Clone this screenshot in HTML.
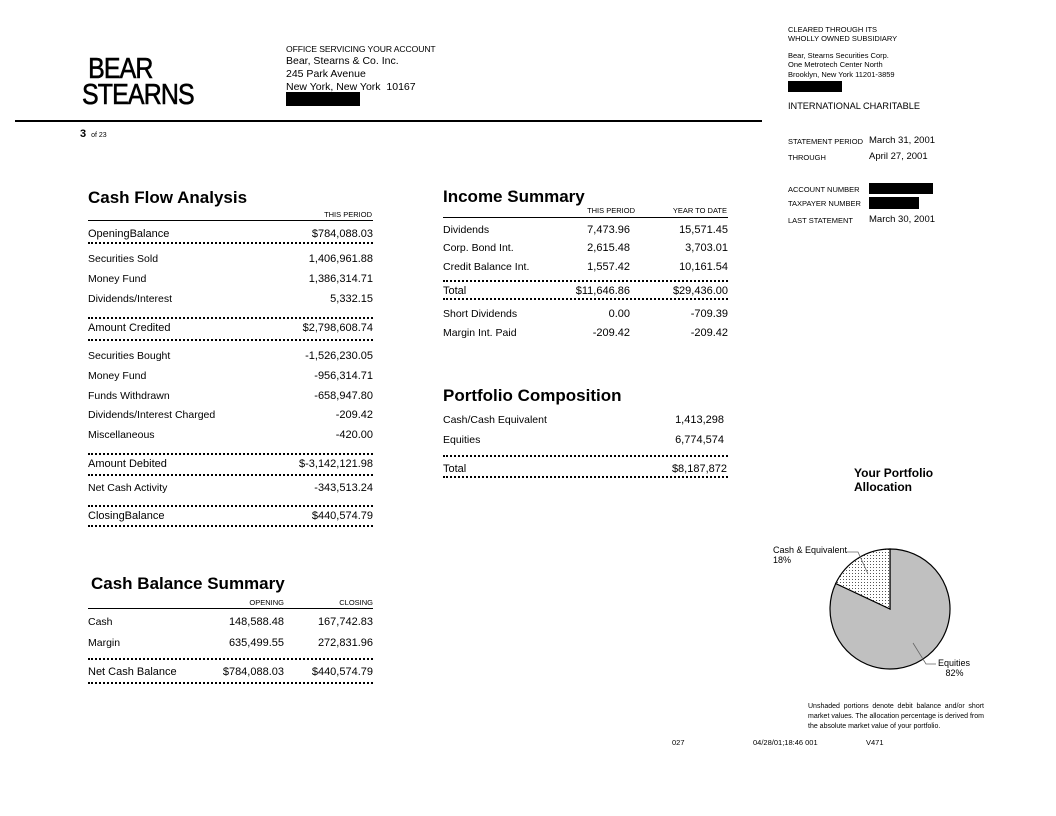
<!DOCTYPE html>
<html><head><meta charset="utf-8"><style>
body{margin:0;width:1056px;height:816px;background:#fff;position:relative;overflow:hidden;font-family:"Liberation Sans",sans-serif;color:#000}
.a{position:absolute;white-space:nowrap;line-height:14px;font-size:11px}
.r{text-align:right}
.s{font-size:7.5px}
.h{font-size:17px;font-weight:bold;line-height:20px}
.d{position:absolute;height:0;border-top:2px dotted #000}
.l{position:absolute;height:0;border-top:1.5px solid #000}
.b{position:absolute;background:#000}
</style></head><body>
<div class="a" style="left:82px;top:56px;font-size:29px;line-height:26px;letter-spacing:-1px;transform:scaleX(0.86);transform-origin:left;-webkit-text-stroke:0.6px #000">&nbsp;BEAR<br>STEARNS</div>
<div class="a" style="left:286px;top:42px;font-size:8.6px;letter-spacing:-0.1px">OFFICE SERVICING YOUR ACCOUNT</div>
<div class="a" style="left:286px;top:54px;font-size:10.5px">Bear, Stearns &amp; Co. Inc.</div>
<div class="a" style="left:286px;top:67px;font-size:10.5px">245 Park Avenue</div>
<div class="a" style="left:286px;top:80px;font-size:10.5px">New York, New York&nbsp; 10167</div>
<div class="b" style="left:286px;top:92px;width:74px;height:14px"></div>
<div class="l" style="left:15px;top:120px;width:747px;border-top-width:2px"></div>
<div class="a" style="left:80px;top:127px;font-size:11px"><b>3</b> <span style="font-size:7px">&nbsp;of 23</span></div>

<div class="a s" style="left:788px;top:23px">CLEARED THROUGH ITS</div>
<div class="a s" style="left:788px;top:32px">WHOLLY OWNED SUBSIDIARY</div>
<div class="a s" style="left:788px;top:49px">Bear, Stearns Securities Corp.</div>
<div class="a s" style="left:788px;top:58px">One Metrotech Center North</div>
<div class="a s" style="left:788px;top:68px">Brooklyn, New York 11201-3859</div>
<div class="b" style="left:788px;top:81px;width:54px;height:11px"></div>
<div class="a" style="left:788px;top:99px;font-size:9.2px">INTERNATIONAL CHARITABLE</div>
<div class="a s" style="left:788px;top:135px">STATEMENT PERIOD</div>
<div class="a" style="left:869px;top:134px;font-size:9.5px">March 31, 2001</div>
<div class="a s" style="left:788px;top:151px">THROUGH</div>
<div class="a" style="left:869px;top:150px;font-size:9.5px">April 27, 2001</div>
<div class="a s" style="left:788px;top:183px">ACCOUNT NUMBER</div>
<div class="b" style="left:869px;top:183px;width:64px;height:11px"></div>
<div class="a s" style="left:788px;top:197px">TAXPAYER NUMBER</div>
<div class="b" style="left:869px;top:197px;width:50px;height:12px"></div>
<div class="a s" style="left:788px;top:214px">LAST STATEMENT</div>
<div class="a" style="left:869px;top:213px;font-size:9.5px">March 30, 2001</div>

<div class="a h" style="left:88px;top:188px">Cash Flow Analysis</div>
<div class="a s r" style="left:273px;width:99px;top:208px">THIS PERIOD</div>
<div class="l" style="left:88px;top:220px;width:285px"></div>
<div class="a" style="left:88px;top:227px">OpeningBalance</div><div class="a r" style="left:233px;width:140px;top:227px">$784,088.03</div>
<div class="d" style="left:88px;top:242px;width:285px"></div>
<div class="a" style="left:88px;top:252px;font-size:10.5px">Securities Sold</div><div class="a r" style="left:233px;width:140px;top:252px">1,406,961.88</div>
<div class="a" style="left:88px;top:272px;font-size:10.5px">Money Fund</div><div class="a r" style="left:233px;width:140px;top:272px">1,386,314.71</div>
<div class="a" style="left:88px;top:292px;font-size:10.5px">Dividends/Interest</div><div class="a r" style="left:233px;width:140px;top:292px">5,332.15</div>
<div class="d" style="left:88px;top:317px;width:285px"></div>
<div class="a" style="left:88px;top:321px">Amount Credited</div><div class="a r" style="left:233px;width:140px;top:321px">$2,798,608.74</div>
<div class="d" style="left:88px;top:339px;width:285px"></div>
<div class="a" style="left:88px;top:349px;font-size:10.5px">Securities Bought</div><div class="a r" style="left:233px;width:140px;top:349px">-1,526,230.05</div>
<div class="a" style="left:88px;top:369px;font-size:10.5px">Money Fund</div><div class="a r" style="left:233px;width:140px;top:369px">-956,314.71</div>
<div class="a" style="left:88px;top:389px;font-size:10.5px">Funds Withdrawn</div><div class="a r" style="left:233px;width:140px;top:389px">-658,947.80</div>
<div class="a" style="left:88px;top:408px;font-size:10.5px">Dividends/Interest Charged</div><div class="a r" style="left:233px;width:140px;top:408px">-209.42</div>
<div class="a" style="left:88px;top:428px;font-size:10.5px">Miscellaneous</div><div class="a r" style="left:233px;width:140px;top:428px">-420.00</div>
<div class="d" style="left:88px;top:453px;width:285px"></div>
<div class="a" style="left:88px;top:457px">Amount Debited</div><div class="a r" style="left:233px;width:140px;top:457px">$-3,142,121.98</div>
<div class="d" style="left:88px;top:474px;width:285px"></div>
<div class="a" style="left:88px;top:481px;font-size:10.5px">Net Cash Activity</div><div class="a r" style="left:233px;width:140px;top:481px">-343,513.24</div>
<div class="d" style="left:88px;top:505px;width:285px"></div>
<div class="a" style="left:88px;top:509px">ClosingBalance</div><div class="a r" style="left:233px;width:140px;top:509px">$440,574.79</div>
<div class="d" style="left:88px;top:525px;width:285px"></div>

<div class="a h" style="left:443px;top:187px">Income Summary</div>
<div class="a s r" style="left:535px;width:100px;top:204px">THIS PERIOD</div>
<div class="a s r" style="left:627px;width:100px;top:204px">YEAR TO DATE</div>
<div class="l" style="left:443px;top:217px;width:285px"></div>
<div class="a" style="left:443px;top:223px;font-size:10.5px">Dividends</div><div class="a r" style="left:530px;width:100px;top:223px">7,473.96</div><div class="a r" style="left:628px;width:100px;top:223px">15,571.45</div>
<div class="a" style="left:443px;top:241px;font-size:10.5px">Corp. Bond Int.</div><div class="a r" style="left:530px;width:100px;top:241px">2,615.48</div><div class="a r" style="left:628px;width:100px;top:241px">3,703.01</div>
<div class="a" style="left:443px;top:260px;font-size:10.5px">Credit Balance Int.</div><div class="a r" style="left:530px;width:100px;top:260px">1,557.42</div><div class="a r" style="left:628px;width:100px;top:260px">10,161.54</div>
<div class="d" style="left:443px;top:280px;width:285px"></div>
<div class="a" style="left:443px;top:284px">Total</div><div class="a r" style="left:530px;width:100px;top:284px">$11,646.86</div><div class="a r" style="left:628px;width:100px;top:284px">$29,436.00</div>
<div class="d" style="left:443px;top:298px;width:285px"></div>
<div class="a" style="left:443px;top:307px;font-size:10.5px">Short Dividends</div><div class="a r" style="left:530px;width:100px;top:307px">0.00</div><div class="a r" style="left:628px;width:100px;top:307px">-709.39</div>
<div class="a" style="left:443px;top:326px;font-size:10.5px">Margin Int. Paid</div><div class="a r" style="left:530px;width:100px;top:326px">-209.42</div><div class="a r" style="left:628px;width:100px;top:326px">-209.42</div>

<div class="a h" style="left:443px;top:386px">Portfolio Composition</div>
<div class="a" style="left:443px;top:413px;font-size:10.5px">Cash/Cash Equivalent</div><div class="a r" style="left:604px;width:120px;top:413px">1,413,298</div>
<div class="a" style="left:443px;top:433px;font-size:10.5px">Equities</div><div class="a r" style="left:604px;width:120px;top:433px">6,774,574</div>
<div class="d" style="left:443px;top:455px;width:285px"></div>
<div class="a" style="left:443px;top:462px">Total</div><div class="a r" style="left:604px;width:123px;top:462px">$8,187,872</div>
<div class="d" style="left:443px;top:476px;width:285px"></div>

<div class="a h" style="left:91px;top:574px">Cash Balance Summary</div>
<div class="a s r" style="left:184px;width:100px;top:596px">OPENING</div>
<div class="a s r" style="left:273px;width:100px;top:596px">CLOSING</div>
<div class="l" style="left:88px;top:608px;width:285px"></div>
<div class="a" style="left:88px;top:615px;font-size:10.5px">Cash</div><div class="a r" style="left:164px;width:120px;top:615px">148,588.48</div><div class="a r" style="left:253px;width:120px;top:615px">167,742.83</div>
<div class="a" style="left:88px;top:636px;font-size:10.5px">Margin</div><div class="a r" style="left:164px;width:120px;top:636px">635,499.55</div><div class="a r" style="left:253px;width:120px;top:636px">272,831.96</div>
<div class="d" style="left:88px;top:658px;width:285px"></div>
<div class="a" style="left:88px;top:665px">Net Cash Balance</div><div class="a r" style="left:164px;width:120px;top:665px">$784,088.03</div><div class="a r" style="left:253px;width:120px;top:665px">$440,574.79</div>
<div class="d" style="left:88px;top:682px;width:285px"></div>

<div class="a" style="left:854px;top:466px;font-size:12px;font-weight:bold;line-height:14px">Your Portfolio<br>Allocation</div>
<svg style="position:absolute;left:0;top:0" width="1056" height="816">
<defs><pattern id="p" width="3" height="3" patternUnits="userSpaceOnUse"><rect width="3" height="3" fill="#fff"/><rect width="1" height="1" fill="#555"/></pattern></defs>
<path d="M890,609 L890,549 A60,60 0 1,1 835.7,583.5 Z" fill="#c0c0c0" stroke="#000" stroke-width="1.2"/>
<path d="M890,609 L835.7,583.5 A60,60 0 0,1 890,549 Z" fill="url(#p)" stroke="#000" stroke-width="1.2"/>
<polyline points="846,552 858,552 868,574" fill="none" stroke="#666" stroke-width="0.8"/>
<polyline points="936,664 926,664 913,643" fill="none" stroke="#666" stroke-width="0.8"/>
</svg>
<div class="a" style="left:773px;top:545px;font-size:9px;line-height:10px">Cash &amp; Equivalent<br>18%</div>
<div class="a" style="left:938px;top:658px;font-size:9px;line-height:10px">Equities<br>&nbsp;&nbsp;&nbsp;82%</div>
<div class="a" style="left:808px;top:702px;font-size:7px;line-height:10px;white-space:normal;width:176px;text-align:justify">Unshaded portions denote debit balance and/or short market values. The allocation percentage is derived from the absolute market value of your portfolio.</div>

<div class="a s" style="left:672px;top:736px">027</div>
<div class="a s" style="left:753px;top:736px">04/28/01;18:46 001</div>
<div class="a s" style="left:866px;top:736px">V471</div>
</body></html>
